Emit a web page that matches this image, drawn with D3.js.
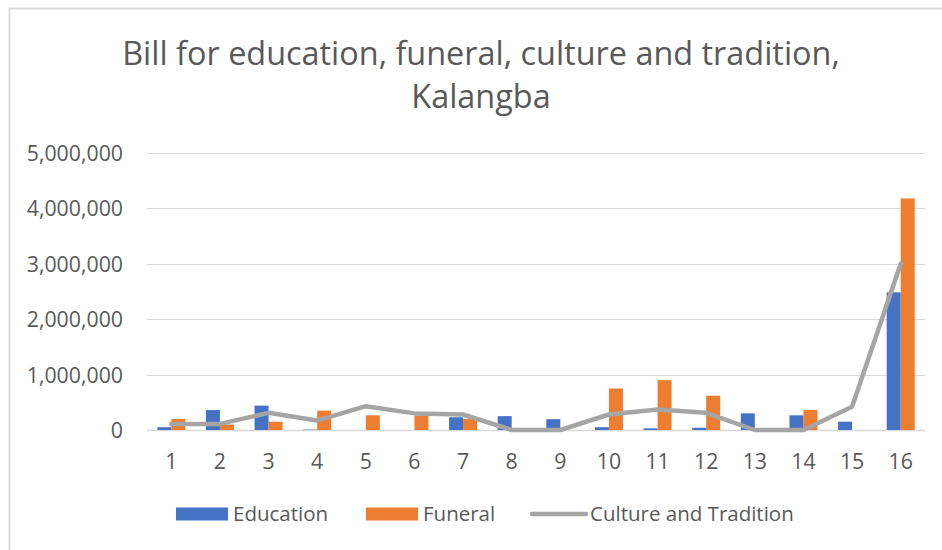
<!DOCTYPE html>
<html>
<head>
<meta charset="utf-8">
<script src="https://cdn.jsdelivr.net/npm/d3@7"></script>
<style>
  body { margin: 0; background: #fff; }
  text { font-family: "Open Sans", "Liberation Sans", sans-serif; fill: #595959; }
</style>
</head>
<body>
<div id="chart-area"></div>
<script>
const categories = ["1", "2", "3", "4", "5", "6", "7", "8", "9", "10", "11", "12", "13", "14", "15", "16"]
const education = [50000, 360000, 440000, 8000, 0, 0, 230000, 250000, 195000, 50000, 30000, 40000, 300000, 265000, 150000, 2485000]
const funeral = [200000, 100000, 150000, 350000, 265000, 260000, 200000, 0, 0, 750000, 900000, 620000, 0, 360000, 0, 4180000]
const culture = [110000, 110000, 310000, 170000, 430000, 300000, 280000, 0, 0, 280000, 370000, 310000, 0, 0, 420000, 3000000]
const yTicks = [0, 1000000, 2000000, 3000000, 4000000, 5000000]
const titleLines = ["Bill for education, funeral, culture and tradition,", "Kalangba"]
const seriesNames = ["Education", "Funeral", "Culture and Tradition"]
const colors = ["#4472C4", "#ED7D31", "#A5A5A5"]

const W = 942, H = 550
const MARGIN = { LEFT: 147, RIGHT: 17, TOP: 153, BOTTOM: 120 }

const svg = d3.select("#chart-area").append("svg")
    .attr("width", W)
    .attr("height", H)

// frame (only top and left edges show in the picture)
svg.append("path")
    .attr("d", `M9.5,${H} V8.5 H${W}`)
    .attr("fill", "none")
    .attr("stroke", "#D9D9D9")
    .attr("stroke-width", 2)

// Title
const title = svg.append("text")
    .attr("text-anchor", "middle")
    .attr("font-size", "30px")
title.selectAll("tspan").data(titleLines).enter().append("tspan")
    .attr("x", 481)
    .attr("y", (d, i) => 65 + i * 43)
    .text(d => d)
// fit first line to the reference width
const firstLen = title.select("tspan").node().getComputedTextLength()
title.attr("font-size", (30 * 718 / firstLen) + "px")

// Scales
const x = d3.scaleBand()
    .domain(categories)
    .range([MARGIN.LEFT, W - MARGIN.RIGHT])
    .paddingInner(0.424)
    .paddingOuter(0.212)

const xSub = d3.scaleBand()
    .domain([0, 1])
    .range([0, x.bandwidth()])

const y = d3.scaleLinear()
    .domain([0, 5000000])
    .range([H - MARGIN.BOTTOM, MARGIN.TOP])

// Gridlines
svg.append("g")
    .selectAll("line").data(yTicks).enter().append("line")
    .attr("x1", MARGIN.LEFT)
    .attr("x2", W - MARGIN.RIGHT)
    .attr("y1", d => Math.round(y(d)) + 0.5)
    .attr("y2", d => Math.round(y(d)) + 0.5)
    .attr("stroke", "#D9D9D9")
    .attr("stroke-width", d => d === 0 ? 1.5 : 1)

// Y Axis labels
const yAxisCall = d3.axisLeft(y).tickValues(yTicks).tickSize(0).tickPadding(0)
    .tickFormat(d3.format(","))
const yAxis = svg.append("g")
    .attr("transform", `translate(123, 0)`)
    .call(yAxisCall)
yAxis.select(".domain").remove()
yAxis.selectAll("text")
    .attr("font-size", "21.3px")
    .attr("font-family", null)
    .attr("fill", null)
    .attr("dy", "0.35em")

// Bars
const bars = svg.append("g")
const seriesData = [education, funeral]
seriesData.forEach((vals, s) => {
    bars.selectAll(".bar" + s)
        .data(vals.map((v, i) => ({ cat: categories[i], v: v })))
        .enter().append("rect")
        .attr("x", d => x(d.cat) + xSub(s))
        .attr("width", xSub.bandwidth())
        .attr("y", d => y(d.v))
        .attr("height", d => y(0) - y(d.v))
        .attr("fill", colors[s])
})

// Line
const line = d3.line()
    .x((d, i) => x(categories[i]) + x.bandwidth() / 2)
    .y(d => y(d))
svg.append("path")
    .datum(culture)
    .attr("d", line)
    .attr("fill", "none")
    .attr("stroke", colors[2])
    .attr("stroke-width", 4.5)
    .attr("stroke-linejoin", "round")
    .attr("stroke-linecap", "round")

// X Axis labels
const xAxisCall = d3.axisBottom(x).tickSize(0).tickPadding(0)
const xAxis = svg.append("g")
    .attr("transform", `translate(0, 469)`)
    .call(xAxisCall)
xAxis.select(".domain").remove()
xAxis.selectAll("text")
    .attr("font-size", "21.3px")
    .attr("font-family", null)
    .attr("fill", null)
    .attr("dy", 0)

// Legend
const legendX = [176, 366, 530]
const legend = svg.append("g")
seriesNames.forEach((name, i) => {
    const g = legend.append("g").attr("transform", `translate(${legendX[i]}, 514)`)
    if (i < 2) {
        g.append("rect")
            .attr("x", 0).attr("y", -6.5)
            .attr("width", 52).attr("height", 13)
            .attr("fill", colors[i])
    } else {
        g.append("line")
            .attr("x1", 2).attr("x2", 56)
            .attr("y1", 0).attr("y2", 0)
            .attr("stroke", colors[i])
            .attr("stroke-width", 4.5)
            .attr("stroke-linecap", "round")
    }
    g.append("text")
        .attr("x", i < 2 ? 57 : 60)
        .attr("y", 7)
        .attr("font-size", "20.5px")
        .text(name)
})
</script>
</body>
</html>
